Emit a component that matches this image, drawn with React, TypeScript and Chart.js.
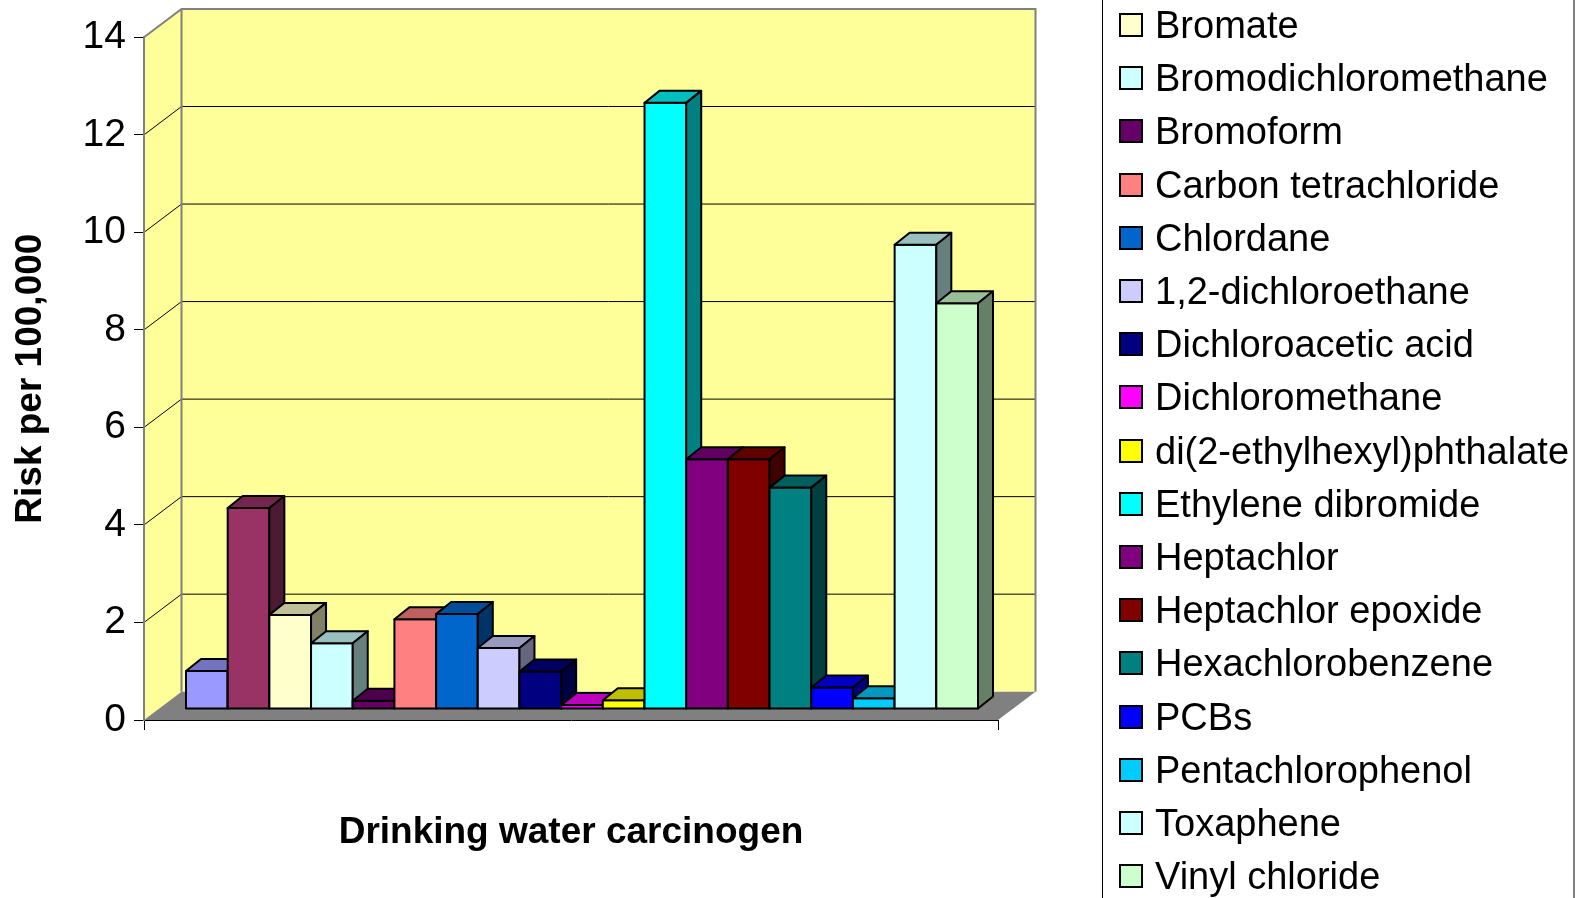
import React, { useEffect, useRef } from "react";
import { Chart, registerables } from "chart.js";

Chart.register(...registerables);

// ---------- data ----------
const categories = [""];
// first two legend entries are cropped out of the original picture
const carcinogens = [
  "",
  "",
  "Bromate",
  "Bromodichloromethane",
  "Bromoform",
  "Carbon tetrachloride",
  "Chlordane",
  "1,2-dichloroethane",
  "Dichloroacetic acid",
  "Dichloromethane",
  "di(2-ethylhexyl)phthalate",
  "Ethylene dibromide",
  "Heptachlor",
  "Heptachlor epoxide",
  "Hexachlorobenzene",
  "PCBs",
  "Pentachlorophenol",
  "Toxaphene",
  "Vinyl chloride",
];
const riskPer100k = [
  0.78, 4.12, 1.93, 1.35, 0.17, 1.84, 1.95, 1.25, 0.77, 0.08, 0.18, 12.43, 5.12,
  5.12, 4.54, 0.44, 0.22, 9.52, 8.32,
];
const barColors = [
  "#9999FF", "#993366", "#FFFFCC", "#CCFFFF", "#660066", "#FF8080", "#0066CC",
  "#CCCCFF", "#000080", "#FF00FF", "#FFFF00", "#00FFFF", "#800080", "#800000",
  "#008080", "#0000FF", "#00CCFF", "#CCFFFF", "#CCFFCC",
];
const yMin = 0;
const yMax = 14;
const yStep = 2;
const xTitle = "Drinking water carcinogen";
const yTitle = "Risk per 100,000";

// ---------- styles ----------
const FONT = '"Liberation Sans", Arial, Helvetica, sans-serif';
const WALL = { dx: 37.5, dy: -28.3 };
const SHIFT = { dx: 11, dy: -11 };
const BAR_D = { dx: 15, dy: -12 };
const WALL_FILL = "#FFFF99";
const FLOOR_FILL = "#808080";

function shade(hex: string, f: number) {
  const n = parseInt(hex.slice(1), 16);
  const r = Math.round(((n >> 16) & 255) * f);
  const g = Math.round(((n >> 8) & 255) * f);
  const b = Math.round((n & 255) * f);
  return `rgb(${r},${g},${b})`;
}

const box3d = {
  id: "box3d",
  beforeDraw(chart: any) {
    const { ctx, chartArea: a, scales } = chart;
    const y = scales.y;
    const { dx, dy } = WALL;
    ctx.save();
    ctx.fillStyle = WALL_FILL;
    ctx.beginPath();
    ctx.moveTo(a.left, a.bottom);
    ctx.lineTo(a.left, a.top);
    ctx.lineTo(a.left + dx, a.top + dy);
    ctx.lineTo(a.left + dx, a.bottom + dy);
    ctx.closePath();
    ctx.fill();
    ctx.fillRect(a.left + dx, a.top + dy, a.right - a.left, a.bottom - a.top);
    // floor
    ctx.fillStyle = FLOOR_FILL;
    ctx.beginPath();
    ctx.moveTo(a.left, a.bottom);
    ctx.lineTo(a.right, a.bottom);
    ctx.lineTo(a.right + dx, a.bottom + dy);
    ctx.lineTo(a.left + dx, a.bottom + dy);
    ctx.closePath();
    ctx.fill();
    // gridlines on side & back walls
    ctx.strokeStyle = "#000";
    ctx.lineWidth = 1;
    y.ticks.forEach((t: any) => {
      if (t.value <= y.min || t.value >= y.max) return;
      const py = y.getPixelForValue(t.value);
      ctx.beginPath();
      ctx.moveTo(a.left, py);
      ctx.lineTo(a.left + dx, py + dy);
      ctx.lineTo(a.right + dx, py + dy);
      ctx.stroke();
    });
    // wall edges
    ctx.strokeStyle = "#808080";
    ctx.lineWidth = 2;
    ctx.beginPath();
    ctx.moveTo(a.left, a.top);
    ctx.lineTo(a.left + dx, a.top + dy);
    ctx.lineTo(a.right + dx, a.top + dy);
    ctx.lineTo(a.right + dx, a.bottom + dy);
    ctx.moveTo(a.left + dx, a.top + dy);
    ctx.lineTo(a.left + dx, a.bottom + dy);
    ctx.stroke();
    ctx.restore();
  },
  beforeDatasetsDraw(chart: any) {
    const { ctx } = chart;
    ctx.save();
    ctx.lineWidth = 2;
    ctx.lineJoin = "round";
    ctx.strokeStyle = "#000";
    chart.data.datasets.forEach((ds: any, i: number) => {
      const meta = chart.getDatasetMeta(i);
      const el = meta.data[0];
      if (!el) return;
      const { x, y, base, width } = el.getProps(["x", "y", "base", "width"], true);
      const l = x - width / 2 + SHIFT.dx;
      const r = x + width / 2 + SHIFT.dx;
      const t = y + SHIFT.dy;
      const b = base + SHIFT.dy;
      const c = ds.backgroundColor as string;
      // front
      ctx.fillStyle = c;
      ctx.beginPath();
      ctx.rect(l, t, r - l, b - t);
      ctx.fill();
      ctx.stroke();
      // top
      ctx.fillStyle = shade(c, 0.75);
      ctx.beginPath();
      ctx.moveTo(l, t);
      ctx.lineTo(r, t);
      ctx.lineTo(r + BAR_D.dx, t + BAR_D.dy);
      ctx.lineTo(l + BAR_D.dx, t + BAR_D.dy);
      ctx.closePath();
      ctx.fill();
      ctx.stroke();
      // side
      ctx.fillStyle = shade(c, 0.5);
      ctx.beginPath();
      ctx.moveTo(r, t);
      ctx.lineTo(r + BAR_D.dx, t + BAR_D.dy);
      ctx.lineTo(r + BAR_D.dx, b + BAR_D.dy);
      ctx.lineTo(r, b);
      ctx.closePath();
      ctx.fill();
      ctx.stroke();
    });
    ctx.restore();
    return false;
  },
};

export default function App() {
  const ref = useRef<HTMLCanvasElement | null>(null);

  useEffect(() => {
    if (!ref.current) return;
    const chart = new Chart(ref.current, {
      type: "bar",
      data: {
        labels: categories,
        datasets: carcinogens.map((name, i) => ({
          label: name,
          data: [riskPer100k[i]],
          backgroundColor: barColors[i],
          categoryPercentage: 0.9274,
          barPercentage: 1,
        })),
      },
      options: {
        responsive: false,
        animation: false,
        layout: { padding: { top: 37.3, right: 579, bottom: 0, left: 0 } },
        plugins: { legend: { display: false }, tooltip: { enabled: false } },
        scales: {
          x: {
            type: "category",
            offset: true,
            grid: {
              display: true,
              drawOnChartArea: false,
              drawTicks: true,
              tickLength: 10,
              color: "#000",
              lineWidth: 1,
              offset: true,
            },
            border: { display: true, color: "#000", width: 1 },
            ticks: { display: true, color: "#000" },
            title: {
              display: true,
              text: xTitle,
              color: "#000",
              font: { family: FONT, size: 37, weight: "bold" },
              padding: { top: 0, bottom: 43 },
            },
            afterFit(s: any) {
              s.height = 178;
            },
          },
          y: {
            min: yMin,
            max: yMax,
            ticks: {
              stepSize: yStep,
              color: "#000",
              font: { family: FONT, size: 39 },
              padding: 8,
            },
            grid: {
              drawOnChartArea: false,
              drawTicks: true,
              tickLength: 10,
              color: "#000",
              lineWidth: 1,
            },
            border: { display: true, color: "#808080", width: 2 },
            title: {
              display: true,
              text: yTitle,
              color: "#000",
              font: { family: FONT, size: 37, weight: "bold" },
              padding: { top: 9, bottom: 0 },
            },
            afterFit(s: any) {
              s.width = 144;
            },
          },
        },
      },
      plugins: [box3d],
    } as any);
    return () => chart.destroy();
  }, []);

  const legendItems = carcinogens
    .map((name, i) => ({ name, color: barColors[i] }))
    .filter((it) => it.name !== "");

  return (
    <div
      style={{
        position: "fixed",
        left: 0,
        top: 0,
        width: 1577,
        height: 898,
        overflow: "hidden",
        background: "#fff",
      }}
    >
      <canvas ref={ref} width={1577} height={898} style={{ display: "block" }} />
      <div
        style={{
          position: "absolute",
          left: 1102,
          top: -300,
          width: 473,
          height: 1500,
          borderLeft: "1px solid #000",
          borderRight: "2px solid #808080",
          boxSizing: "border-box",
        }}
      />
      <div style={{ position: "absolute", left: 1119, top: 25.1 - 26.6 }}>
        {legendItems.map((it) => (
          <div
            key={it.name}
            style={{
              height: 53.2,
              display: "flex",
              alignItems: "center",
              whiteSpace: "nowrap",
            }}
          >
            <span
              style={{
                width: 24,
                height: 24,
                boxSizing: "border-box",
                border: "2px solid #000",
                background: it.color,
                marginRight: 12,
                flex: "none",
              }}
            />
            <span
              style={{
                fontFamily: FONT,
                fontSize: 38,
                color: "#000",
                lineHeight: "44px",
              }}
            >
              {it.name}
            </span>
          </div>
        ))}
      </div>
    </div>
  );
}
